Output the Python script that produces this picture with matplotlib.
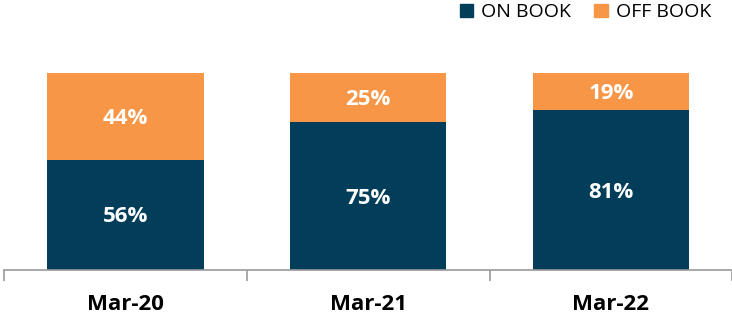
import matplotlib.pyplot as plt
from matplotlib.patches import Patch

categories = ['Mar-20', 'Mar-21', 'Mar-22']
on_book = [56, 75, 81]
off_book = [44, 25, 19]

navy = '#023E5A'
orange = '#F79646'

plt.rcParams['font.family'] = ['Open Sans', 'DejaVu Sans']

fig = plt.figure(figsize=(7.32, 3.16), dpi=100)
ax = fig.add_axes([0.0055, 0.1456, 0.995, 0.6234])

x = range(len(categories))
ax.bar(x, on_book, width=0.645, color=navy)
ax.bar(x, off_book, bottom=on_book, width=0.645, color=orange)

for i in x:
    ax.text(i, on_book[i] / 2 - 1, f'{on_book[i]}%', ha='center', va='center',
            color='white', fontsize=16, fontweight='bold')
    ax.text(i, on_book[i] + off_book[i] / 2 - 1, f'{off_book[i]}%', ha='center',
            va='center', color='white', fontsize=16, fontweight='bold')

ax.set_xlim(-0.5, 2.5)
ax.set_ylim(0, 100)
ax.set_yticks([])
ax.set_xticks(list(x))
ax.set_xticklabels(categories, fontsize=16, fontweight='bold')
ax.set_xticks([-0.5, 0.5, 1.5, 2.5], minor=True)
ax.tick_params(axis='x', which='major', length=0, pad=17)
ax.tick_params(axis='x', which='minor', length=8, color='#999999', width=1.2)
for s in ['top', 'left', 'right']:
    ax.spines[s].set_visible(False)
ax.spines['bottom'].set_color('#999999')
ax.spines['bottom'].set_linewidth(1.2)

handles = [Patch(color=navy, label='ON BOOK'), Patch(color=orange, label='OFF BOOK')]
fig.legend(handles=handles, loc='upper right', bbox_to_anchor=(0.995, 1.045), ncol=2,
           frameon=False, fontsize=14, handlelength=0.7, handleheight=0.7,
           handletextpad=0.4, columnspacing=1.2)

fig.savefig('out.png', dpi=100)
